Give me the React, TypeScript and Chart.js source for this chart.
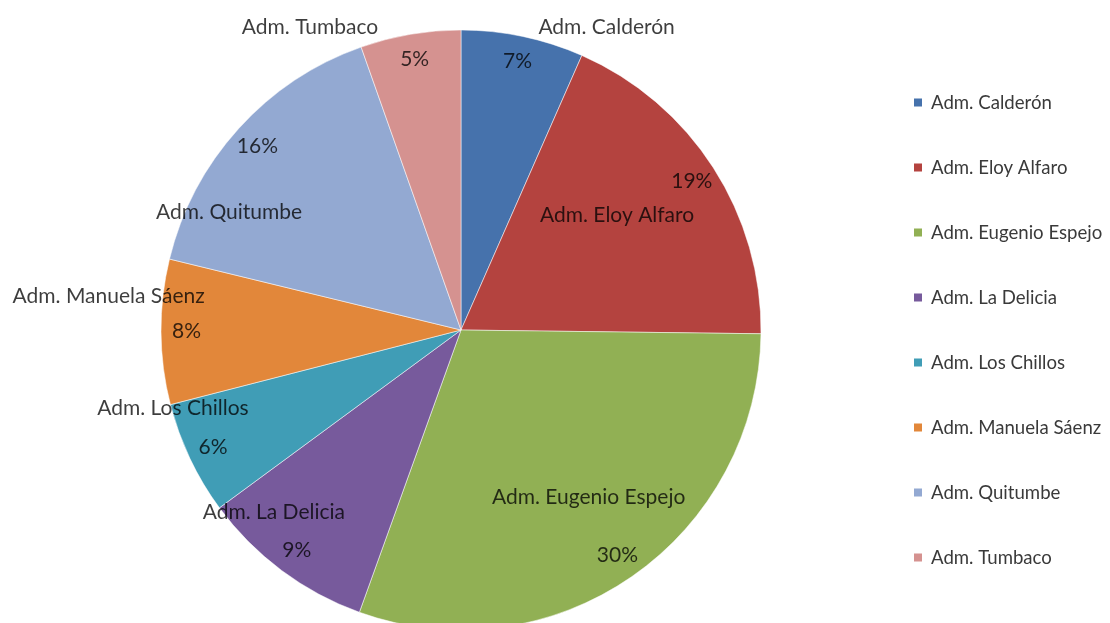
import React, { useEffect, useRef } from "react";
import { Chart, registerables } from "chart.js";

Chart.register(...registerables);

// ---- data ----
const categories = [
  "Adm. Calderón",
  "Adm. Eloy Alfaro",
  "Adm. Eugenio Espejo",
  "Adm. La Delicia",
  "Adm. Los Chillos",
  "Adm. Manuela Sáenz",
  "Adm. Quitumbe",
  "Adm. Tumbaco",
];
const shares = [6.6, 18.6, 30.3, 9.4, 6.1, 7.8, 15.8, 5.4];
const percentLabels = ["7%", "19%", "30%", "9%", "6%", "8%", "16%", "5%"];

// ---- styles ----
const sliceColors = [
  "#4672AC",
  "#B4433F",
  "#91B054",
  "#775A9C",
  "#409DB6",
  "#E2873A",
  "#93A9D2",
  "#D59290",
];
// name-label placement: angle offset (deg) from slice mid-angle, distance as fraction of radius
const nameAngleOffset = [13.8, -3.6, -2.7, 9.1, 10.2, 5.9, -15.2, -16.8];
const nameRadiusFactor = [1.12, 0.646, 0.7, 0.87, 0.995, 1.18, 0.867, 1.127];
const pctRadiusFactor = 0.915;
const FONT = "Lato, 'DejaVu Sans', sans-serif";

const labelPlugin = {
  id: "sliceLabels",
  afterDatasetsDraw(chart: any) {
    const ctx = chart.ctx as CanvasRenderingContext2D;
    const meta = chart.getDatasetMeta(0);
    ctx.save();
    ctx.textAlign = "center";
    ctx.textBaseline = "middle";
    let cy = 0;
    meta.data.forEach((arc: any, i: number) => {
      const p = arc.getProps(["x", "y", "startAngle", "endAngle", "outerRadius"], true);
      cy = p.y;
      const mid = (p.startAngle + p.endAngle) / 2;
      ctx.fillStyle = "rgba(0,0,0,0.76)";
      ctx.font = `21px ${FONT}`;
      const pr = p.outerRadius * pctRadiusFactor;
      ctx.fillText(percentLabels[i], p.x + Math.cos(mid) * pr, p.y + Math.sin(mid) * pr);
      const a = mid + (nameAngleOffset[i] * Math.PI) / 180;
      const nr = p.outerRadius * nameRadiusFactor[i];
      ctx.fillText(categories[i], p.x + Math.cos(a) * nr, p.y + Math.sin(a) * nr);
    });
    // legend
    const lx = chart.width - 196;
    const step = 65;
    ctx.textAlign = "left";
    ctx.font = `18.6px ${FONT}`;
    categories.forEach((name, i) => {
      const y = cy + (i - 3.5) * step;
      ctx.fillStyle = sliceColors[i];
      ctx.fillRect(lx, y - 4, 8, 8);
      ctx.fillStyle = "#3a3a3a";
      ctx.fillText(name, lx + 17, y);
    });
    ctx.restore();
  },
};

export default function App() {
  const ref = useRef<HTMLCanvasElement | null>(null);
  useEffect(() => {
    document.body.style.margin = "0";
    if (!ref.current) return;
    const chart = new Chart(ref.current, {
      type: "pie",
      data: {
        labels: categories,
        datasets: [
          {
            data: shares,
            backgroundColor: sliceColors,
            borderColor: "rgba(255,255,255,0.5)",
            borderWidth: 1,
            radius: 300,
            clip: false,
          } as any,
        ],
      },
      options: {
        animation: false,
        responsive: true,
        maintainAspectRatio: false,
        layout: { padding: { left: 0, right: 188, top: 37, bottom: 0 } },
        plugins: {
          legend: { display: false },
          tooltip: { enabled: false },
        },
      },
      plugins: [labelPlugin],
    });
    return () => chart.destroy();
  }, []);
  return (
    <div style={{ position: "relative", width: 1110, height: 623, background: "#fff" }}>
      <canvas ref={ref} />
    </div>
  );
}
